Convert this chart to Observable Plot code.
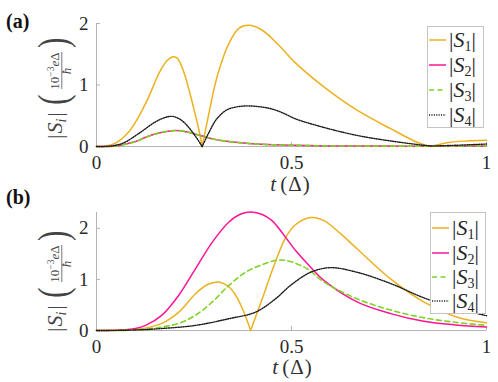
<!DOCTYPE html>
<html><head><meta charset="utf-8">
<script src="https://cdn.jsdelivr.net/npm/d3@7"></script>
<script src="https://cdn.jsdelivr.net/npm/@observablehq/plot@0.6"></script>
<style>
body{margin:0;background:#fff;}
#fig{position:relative;width:498px;height:382px;overflow:hidden;background:#fff;font-family:"Liberation Serif",serif;}
#fig svg{position:absolute;left:0;overflow:visible;background:none;}
#fig svg text{font-family:"Liberation Serif",serif !important;}
</style></head><body><div id="fig"></div>
<script>
// ---- data ----
const xTicks = [0, 0.5, 1];
const yTicksA = [0, 1, 2];
const yTicksB = [0, 1, 2];
const legendNames = ["1", "2", "3", "4"];   // subscripts of |S_i|
const colors = ["#EDB120", "#FF1493", "#7ED321", "#1a1a1a"];

// panel (a): [t, |S|]
const a_S1 = [[0,0],[0.02,0],[0.05,0.06],[0.083,0.24],[0.105,0.45],[0.126,0.70],[0.145,0.97],[0.16,1.19],[0.18,1.39],[0.196,1.46],[0.206,1.44],[0.216,1.34],[0.228,1.13],[0.241,0.83],[0.254,0.50],[0.263,0.26],[0.271,0],[0.288,0.53],[0.3,0.90],[0.314,1.24],[0.339,1.67],[0.365,1.92],[0.39,1.97],[0.425,1.89],[0.467,1.65],[0.51,1.36],[0.583,0.97],[0.668,0.59],[0.754,0.29],[0.822,0.07],[0.856,0],[0.908,0.07],[0.95,0.09],[1,0.10]];
const a_S2 = [[0,0],[0.05,0.01],[0.1,0.08],[0.126,0.15],[0.16,0.22],[0.203,0.26],[0.23,0.24],[0.254,0.20],[0.271,0.17],[0.3,0.12],[0.339,0.08],[0.39,0.05],[0.425,0.035],[0.5,0.02],[0.6,0.01],[0.8,0.006],[1,0.01]];
const a_S3 = [[0,0],[0.05,0.01],[0.1,0.08],[0.126,0.15],[0.16,0.22],[0.203,0.26],[0.23,0.24],[0.254,0.20],[0.271,0.17],[0.3,0.12],[0.339,0.08],[0.39,0.05],[0.425,0.035],[0.5,0.02],[0.6,0.01],[0.8,0.006],[1,0.01]];
const a_S4 = [[0,0],[0.04,0.01],[0.07,0.06],[0.108,0.21],[0.151,0.40],[0.175,0.47],[0.194,0.49],[0.212,0.45],[0.228,0.37],[0.25,0.20],[0.271,0],[0.29,0.25],[0.305,0.42],[0.322,0.54],[0.339,0.61],[0.365,0.65],[0.39,0.66],[0.42,0.645],[0.45,0.61],[0.48,0.54],[0.51,0.45],[0.583,0.31],[0.668,0.18],[0.754,0.09],[0.84,0.02],[0.86,0.01],[0.92,0.02],[1,0.04]];

// panel (b)
const b_S1 = [[0,0],[0.08,0.005],[0.12,0.04],[0.168,0.14],[0.211,0.36],[0.254,0.72],[0.285,0.90],[0.312,0.95],[0.335,0.88],[0.348,0.79],[0.362,0.62],[0.374,0.43],[0.385,0.22],[0.395,0],[0.425,0.62],[0.459,1.35],[0.485,1.82],[0.51,2.07],[0.549,2.21],[0.583,2.15],[0.625,1.90],[0.668,1.60],[0.754,1.01],[0.839,0.56],[0.925,0.26],[1,0.15]];
const b_S2 = [[0,0],[0.05,0.005],[0.1,0.04],[0.126,0.10],[0.168,0.30],[0.211,0.69],[0.254,1.21],[0.297,1.73],[0.339,2.12],[0.37,2.28],[0.397,2.32],[0.425,2.27],[0.45,2.15],[0.497,1.70],[0.51,1.57],[0.549,1.24],[0.583,0.98],[0.668,0.56],[0.754,0.33],[0.839,0.18],[0.92,0.11],[1,0.07]];
const b_S3 = [[0,0],[0.1,0.01],[0.17,0.07],[0.211,0.14],[0.254,0.30],[0.297,0.56],[0.339,0.88],[0.382,1.14],[0.425,1.29],[0.467,1.38],[0.497,1.35],[0.54,1.21],[0.583,0.95],[0.668,0.62],[0.754,0.40],[0.839,0.25],[0.92,0.16],[1,0.10]];
const b_S4 = [[0,0],[0.1,0.01],[0.17,0.04],[0.254,0.10],[0.339,0.23],[0.408,0.36],[0.459,0.62],[0.497,0.88],[0.549,1.14],[0.6,1.23],[0.668,1.14],[0.754,0.92],[0.839,0.64],[0.92,0.44],[1,0.29]];

const FONT = "Liberation Serif";
const AXIS = "#b3b3b3";
const TXT = "#2a2a2a";

function rowsOf(series) {
  const rows = [];
  series.forEach((pts, k) => {
    let seg = 0;
    pts.forEach((p, i) => {
      rows.push({t: p[0], v: p[1], k, key: k + "-" + seg});
      const cusp = i > 0 && i < pts.length - 1 && p[1] === 0 && pts[i-1][1] > 0 && pts[i+1][1] > 0;
      if (cusp) { seg++; rows.push({t: p[0], v: p[1], k, key: k + "-" + seg}); }
    });
  });
  return rows;
}

function panel(series, yDomain, yTicks, height, mt, mb) {
  const rows = rowsOf(series);
  const style = [
    {strokeWidth: 1.5},
    {strokeWidth: 1.5},
    {strokeWidth: 1.6, strokeDasharray: "5,3.5"},
    {strokeWidth: 1.4, strokeDasharray: "1.1,1.3"}
  ];
  return Plot.plot({
    width: 498, height,
    marginLeft: 96, marginRight: 12, marginTop: mt, marginBottom: mb,
    style: {fontFamily: FONT, background: "none", overflow: "visible"},
    x: {domain: [0, 1]},
    y: {domain: yDomain},
    marks: [
      Plot.ruleY([0], {stroke: AXIS}),
      Plot.ruleX([0], {stroke: AXIS}),
      Plot.axisX({ticks: xTicks, tickSize: 4, dy: -4, fill: "none", stroke: AXIS, label: null}),
      Plot.axisY({ticks: yTicks, tickSize: 4, dx: 4, fill: "none", stroke: AXIS, label: null}),
      Plot.axisX({ticks: xTicks, tickSize: 0, tickPadding: 9, tickFormat: d => String(d), fontSize: 19, fontFamily: FONT, fill: TXT, label: null}),
      Plot.axisY({ticks: yTicks, tickSize: 0, tickPadding: 8, tickFormat: d => String(d), fontSize: 19, fontFamily: FONT, fill: TXT, label: null}),
      ...[0, 1, 2, 3].map(k => Plot.line(rows.filter(r => r.k === k), {
        x: "t", y: "v", z: "key", curve: "catmull-rom", stroke: colors[k], ...style[k]
      }))
    ]
  });
}

const fig = document.getElementById("fig");
const pa = panel([a_S1, a_S2, a_S3, a_S4], [0, 2], yTicksA, 190, 23, 44);
pa.style.top = "0px";
fig.appendChild(pa);
const pb = panel([b_S1, b_S2, b_S3, b_S4], [0, 2.31], yTicksB, 192, 22, 52);
pb.style.top = "190px";
fig.appendChild(pb);

// ---- overlay: labels and legends ----
const ov = d3.select(fig).append("svg").attr("width", 498).attr("height", 382)
  .style("top", "0px").attr("font-family", FONT);

function yLabel(cx, yBottom) {
  const G = ov.append("g").attr("transform", `translate(${cx},${yBottom}) rotate(-90)`).attr("fill", "#444");
  const t = G.append("text").attr("x", 1).attr("y", 5).attr("font-size", 22);
  t.append("tspan").text("|");
  t.append("tspan").attr("dx", 1).attr("font-style", "italic").text("S");
  t.append("tspan").attr("font-style", "italic").attr("font-size", 14).attr("dy", 4).text("i");
  t.append("tspan").attr("dx", 2).attr("dy", -4).text("|");
  G.append("text").attr("transform", "translate(35,10) scale(0.75,1)").attr("font-size", 42).text("(");
  const num = G.append("text").attr("x", 69).attr("y", 2).attr("text-anchor", "middle").attr("font-size", 13);
  num.append("tspan").text("10");
  num.append("tspan").attr("font-size", 9.5).attr("dy", -5).text("−3");
  num.append("tspan").attr("font-style", "italic").attr("dy", 5).text("e");
  num.append("tspan").text("Δ");
  G.append("line").attr("x1", 51).attr("x2", 88).attr("y1", 4.8).attr("y2", 4.8).attr("stroke", "#555").attr("stroke-width", 0.8);
  G.append("text").attr("x", 69).attr("y", 14).attr("text-anchor", "middle").attr("font-size", 13).attr("font-style", "italic").text("ħ");
  G.append("text").attr("transform", "translate(92,10) scale(0.75,1)").attr("font-size", 42).text(")");
}
yLabel(57, 140);
yLabel(57, 333);

function xLabel(cx, y) {
  const t = ov.append("text").attr("x", cx).attr("y", y).attr("text-anchor", "middle")
    .attr("font-size", 21).attr("fill", "#303030");
  t.append("tspan").attr("font-style", "italic").text("t");
  t.append("tspan").attr("dx", 4).text("(");
  t.append("tspan").attr("dx", 1).text("Δ");
  t.append("tspan").attr("dx", 1).text(")");
}
xLabel(290, 191);
xLabel(292, 374);

ov.append("text").attr("x", 6).attr("y", 28).attr("font-size", 20).attr("font-weight", "bold").attr("fill", "#111").text("(a)");
ov.append("text").attr("x", 6).attr("y", 204).attr("font-size", 20).attr("font-weight", "bold").attr("fill", "#111").text("(b)");

function legend(x, y, w, h, rowY) {
  ov.append("rect").attr("x", x + 0.5).attr("y", y + 0.5).attr("width", w).attr("height", h)
    .attr("fill", "#fff").attr("stroke", "#c4c4c4");
  const dash = [null, null, "5,3.5", "1.1,1.3"];
  legendNames.forEach((n, i) => {
    const yy = rowY[i];
    ov.append("line").attr("x1", x + 2).attr("x2", x + 19).attr("y1", yy).attr("y2", yy)
      .attr("stroke", colors[i]).attr("stroke-width", i === 3 ? 1.4 : 1.5).attr("stroke-dasharray", dash[i]);
    const t = ov.append("text").attr("x", x + 22).attr("y", yy + 7).attr("font-size", 22).attr("fill", "#262626");
    t.append("tspan").text("|");
    t.append("tspan").attr("font-style", "italic").text("S");
    t.append("tspan").attr("font-size", 14).attr("dy", 4).text(n);
    t.append("tspan").attr("dy", -4).text("|");
  });
}
legend(427, 26, 56, 101, [40, 65, 90, 115]);
legend(430, 212, 55, 101, [228, 253, 277, 301]);
</script></body></html>
